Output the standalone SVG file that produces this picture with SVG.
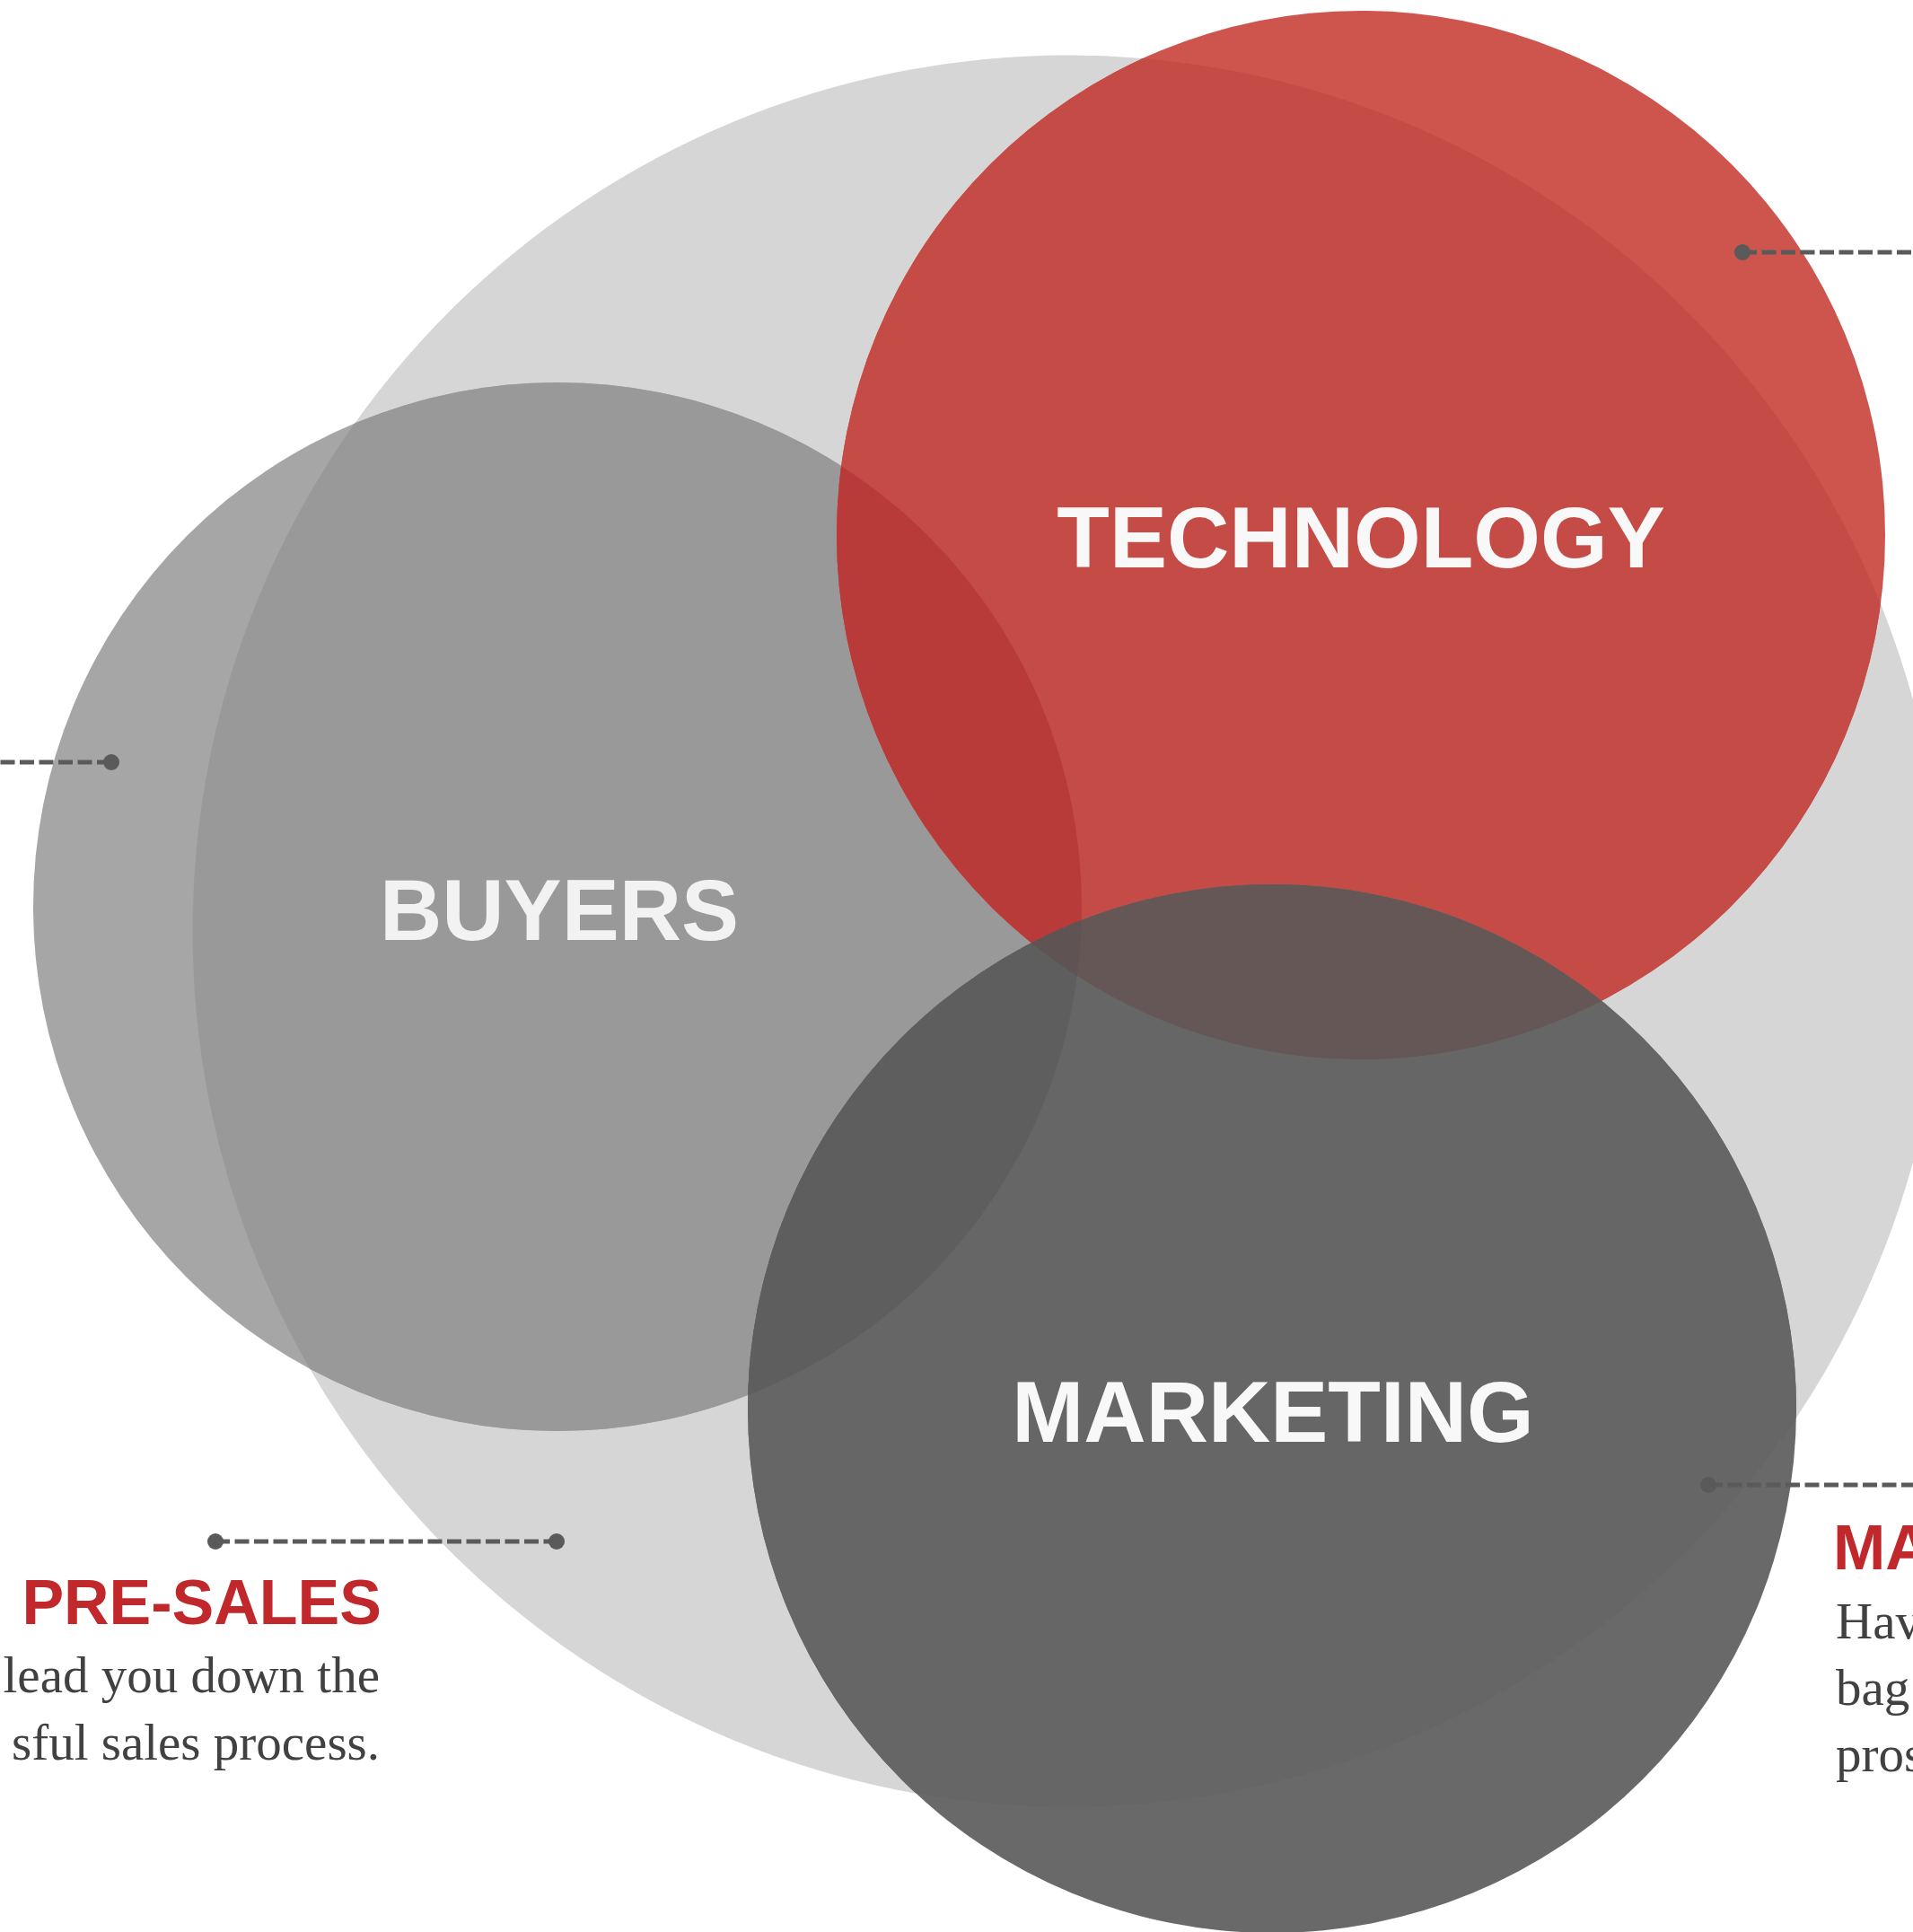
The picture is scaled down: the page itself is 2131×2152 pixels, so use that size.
<svg xmlns="http://www.w3.org/2000/svg" width="2131" height="2152" viewBox="0 0 2131 2152">
  <style>
    .label { font-family: "Liberation Sans", Arial, sans-serif; font-weight: bold; font-size: 96px; text-anchor: middle; }
    .heading { font-family: "Liberation Sans", Arial, sans-serif; font-weight: bold; font-size: 70px; fill: #c0282b; }
    .body { font-family: "Liberation Serif", "Times New Roman", serif; font-size: 57px; fill: #414141; }
    .lead { stroke: #5a5a5a; stroke-width: 5; stroke-dasharray: 16 5.5; fill: none; }
    .dot { fill: #5a5a5a; }
  </style>
  <defs>
    <circle id="c-sales" cx="1190" cy="1037" r="975.5"/>
    <circle id="c-buyers" cx="621" cy="1010" r="584"/>
    <circle id="c-tech" cx="1516" cy="596" r="584"/>
    <circle id="c-mkt" cx="1417" cy="1569" r="584"/>
    <clipPath id="clip-sales"><use href="#c-sales"/></clipPath>
    <clipPath id="clip-buyers"><use href="#c-buyers"/></clipPath>
    <clipPath id="clip-tech"><use href="#c-tech"/></clipPath>
    <clipPath id="clip-mkt"><use href="#c-mkt"/></clipPath>
  </defs>

  <rect width="2131" height="2152" fill="#ffffff"/>

  <!-- large background circle -->
  <g id="sales">
    <use href="#c-sales" fill="#d6d6d6"/>
  </g>

  <!-- buyers circle, darker where it sits on the background circle -->
  <g id="buyers">
    <use href="#c-buyers" fill="#a6a6a6"/>
    <use href="#c-sales" fill="#999999" clip-path="url(#clip-buyers)"/>
  </g>

  <!-- technology circle -->
  <g id="technology">
    <use href="#c-tech" fill="#cd554e"/>
    <use href="#c-sales" fill="#c54c46" clip-path="url(#clip-tech)"/>
    <use href="#c-buyers" fill="#b83b3a" clip-path="url(#clip-tech)"/>
  </g>

  <!-- marketing circle -->
  <g id="marketing">
    <use href="#c-mkt" fill="#696969"/>
    <g clip-path="url(#clip-mkt)">
      <use href="#c-sales" fill="#666666"/>
      <use href="#c-buyers" fill="#5e5e5e"/>
      <use href="#c-tech" fill="#645756"/>
      <use href="#c-buyers" fill="#5f5453" clip-path="url(#clip-tech)"/>
    </g>
  </g>

  <!-- circle labels -->
  <g id="labels">
    <text id="label-technology" class="label" x="1516" y="632" fill="#f8f8f8">TECHNOLOGY</text>
    <text id="label-buyers" class="label" x="623" y="1047" fill="#f2f2f2">BUYERS</text>
    <text id="label-marketing" class="label" x="1418" y="1606" fill="#f8f8f8">MARKETING</text>
  </g>

  <!-- dashed leader lines -->
  <g id="connectors">
    <line class="lead" x1="124" y1="849" x2="0" y2="849"/>
    <circle class="dot" cx="124" cy="849" r="9"/>

    <line class="lead" x1="1941" y1="281" x2="2131" y2="281"/>
    <circle class="dot" cx="1941" cy="281" r="9"/>

    <line class="lead" x1="1903" y1="1654" x2="2131" y2="1654"/>
    <circle class="dot" cx="1903" cy="1654" r="9"/>

    <line class="lead" x1="240" y1="1717" x2="620" y2="1717"/>
    <circle class="dot" cx="240" cy="1717" r="9"/>
    <circle class="dot" cx="620" cy="1717" r="9"/>
  </g>

  <!-- callout: pre-sales -->
  <g id="callout-presales">
    <text class="heading" x="425" y="1809" text-anchor="end">PRE-SALES</text>
    <text class="body" x="423" y="1885" text-anchor="end">lead you down the</text>
    <text class="body" x="423" y="1960" text-anchor="end">sful sales process.</text>
  </g>

  <!-- callout: marketing -->
  <g id="callout-marketing">
    <text class="heading" x="2042" y="1748">MA</text>
    <text class="body" x="2045" y="1825">Hav</text>
    <text class="body" x="2045" y="1899">bag</text>
    <text class="body" x="2045" y="1973">pros</text>
  </g>
</svg>
